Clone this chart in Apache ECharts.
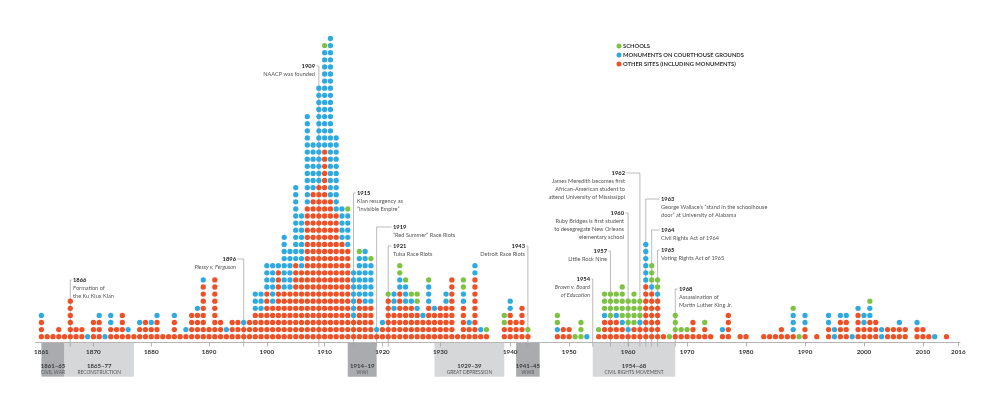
<!DOCTYPE html>
<html>
<head>
<meta charset="utf-8">
<script src="https://cdn.jsdelivr.net/npm/echarts@6/dist/echarts.min.js"></script>
<style>
html,body{margin:0;padding:0;background:#fff;}
#main{width:1000px;height:405px;}
</style>
</head>
<body>
<div id="main"></div>
<script>
// 每年数量，从1861年起（下标 = 年份 - 1861）
var firstYear = 1861;
var otherSites = [
	3,1,1,2,1,6,2,2,0,3,   3,0,2,2,4,1,1,2,3,2,   3,1,1,3,1,1,4,4,8,2,
	9,3,1,3,3,2,3,4,4,7,   5,10,7,7,11,10,19,21,22,27,   20,18,14,13,3,6,5,5,1,2,
	6,4,7,5,5,4,3,5,4,5,   5,9,1,5,2,9,1,1,2,4,   3,5,1,0,0,0,0,1,2,2,
	0,0,0,0,1,3,3,3,2,1,   2,2,8,7,6,1,0,1,1,1,   3,1,2,1,0,1,4,0,1,1,
	0,0,1,1,1,2,1,1,0,2,   0,1,0,2,0,3,3,0,4,2,   3,3,0,2,2,2,2,0,2,2,
	1,0,0,1,0,0
];
var courthouse = [
	1,0,0,0,0,0,0,0,1,0,   1,1,2,0,0,1,0,1,0,1,   1,0,0,1,0,1,0,1,1,0,
	0,0,1,0,0,1,0,3,3,4,   6,1,8,6,11,8,13,7,14,14,   23,11,5,5,7,6,8,6,1,1,
	0,3,2,3,1,1,1,3,1,0,   2,0,0,2,1,2,1,0,0,2,   0,0,0,0,0,0,0,1,0,0,
	0,0,1,0,0,1,0,1,1,1,   0,1,6,1,1,0,0,0,0,0,   0,0,0,0,0,1,0,0,0,0,
	0,0,0,0,0,0,0,3,0,2,   0,0,0,2,2,1,1,1,1,2,   2,0,2,0,0,1,0,0,1,0,
	0,1,0,0,0,0
];
var schools = [
	0,0,0,0,0,0,0,0,0,0,   0,0,0,0,0,0,0,0,0,0,   0,0,0,0,0,0,0,0,0,0,
	0,0,0,0,0,0,0,0,0,0,   0,0,0,0,0,0,0,0,0,1,   0,0,0,1,0,1,0,1,0,0,
	1,0,2,1,1,2,0,1,0,0,   0,0,0,2,0,0,0,1,2,0,   0,0,1,0,0,0,0,2,0,0,
	1,3,0,0,1,3,4,3,5,4,   5,3,0,3,2,0,1,3,1,1,   0,0,1,0,0,0,0,0,0,0,
	0,0,0,0,0,0,0,1,1,0,   0,0,0,0,0,0,0,0,0,0,   1,0,0,0,0,0,0,0,0,0,
	0,0,0,0,0,0
];

// 轴标签
var tickLabelsA = [1861, 1870, 1880, 1890, 1900, 1910, 1920, 1930];
var tickLabelsB = [1940, 1950, 1960, 1970, 1980, 1990, 2000, 2010, 2016];

// 时期
var periodStart = [1861, 1865, 1914, 1929, 1941, 1954];
var periodEnd   = [1865, 1877, 1919, 1939, 1945, 1968];
var periodYears = ['1861–65', '1865–77', '1914–19', '1929–39', '1941–45', '1954–68'];
var periodNames = ['CIVIL WAR', 'RECONSTRUCTION', 'WWI', 'GREAT DEPRESSION', 'WWII', 'CIVIL RIGHTS MOVEMENT'];
var periodDark  = [true, false, true, false, true, false];

// 注释
var noteYears = [1866, 1896, 1909, 1915, 1919, 1921, 1943, 1954, 1957, 1960, 1962, 1963, 1964, 1965, 1968];
var noteTexts = [
	['Formation of', 'the Ku Klux Klan'],
	['Plessy v. Ferguson'],
	['NAACP was founded'],
	['Klan resurgency as', '“Invisible Empire”'],
	['“Red Summer” Race Riots'],
	['Tulsa Race Riots'],
	['Detroit Race Riots'],
	['Brown v. Board', 'of Education'],
	['Little Rock Nine'],
	['Ruby Bridges is first student', 'to desegregate New Orleans', 'elementary school'],
	['James Meredith becomes first', 'African-American student to', 'attend University of Mississippi'],
	['George Wallace’s “stand in the schoolhouse', 'door” at University of Alabama'],
	['Civil Rights Act of 1964'],
	['Voting Rights Act of 1965'],
	['Assassination of', 'Martin Luther King Jr.']
];
var noteItalic = [false, true, false, false, false, false, false, true, false, false, false, false, false, false, false];
// 注释布局（像素）：方向、标题y、文字x
var noteSide = ['r','l','l','r','r','r','l','l','l','l','l','r','r','r','r'];
var noteTop  = [280, 259, 66, 193, 227, 246, 246, 279, 251, 213, 173, 199, 230, 250, 289];
var noteX    = [73, 236, 315, 357, 393, 393, 525, 590, 607, 624, 625, 661, 661, 661, 679];

var RED = '#ef5026', BLUE = '#2eaae1', GREEN = '#7dc243';
var NAME_S = 'SCHOOLS', NAME_C = 'MONUMENTS ON COURTHOUSE GROUNDS', NAME_O = 'OTHER SITES (INCLUDING MONUMENTS)';
var FONT = 'Lato, Roboto, sans-serif';

(function() {
	// 堆叠点：红在下，蓝在中，绿在上；1938年之前放左边的坐标系
	var pts = [{o: [], c: [], s: []}, {o: [], c: [], s: []}];
	for (var i = 0; i < otherSites.length; i++) {
		var year = firstYear + i;
		var g = year <= 1938 ? pts[0] : pts[1];
		var k = 0, a;
		for (a = 0; a < otherSites[i]; a++) g.o.push([year, k++]);
		for (a = 0; a < courthouse[i]; a++) g.c.push([year, k++]);
		for (a = 0; a < schools[i]; a++) g.s.push([year, k++]);
	}

	var myChart = echarts.init(document.getElementById('main'));

	function xAxisOpt(idx, min, max, labels, ticks) {
		return {
			type: 'value', gridIndex: idx, min: min, max: max, z: 3,
			splitLine: {show: false},
			axisLine: {show: true, onZero: false, lineStyle: {color: '#b5b5b5', width: 1}},
			axisTick: {show: true, length: 4, customValues: ticks, lineStyle: {color: '#a0a0a0', width: 0.8}},
			axisLabel: {
				customValues: labels, margin: 7,
				formatter: function(v) { return String(v); },
				fontFamily: FONT, fontSize: 6.3, fontWeight: 'bold', color: '#333'
			}
		};
	}
	function yAxisOpt(idx) {
		return {type: 'value', gridIndex: idx, min: -0.8, max: 45, show: false, splitLine: {show: false}};
	}
	function dots(name, color, data, idx) {
		return {
			name: name, type: 'scatter', xAxisIndex: idx, yAxisIndex: idx,
			symbol: 'circle', symbolSize: 5.3, silent: true,
			itemStyle: {color: color, opacity: 1},
			data: data
		};
	}

	var option = {
		animation: false,
		grid: [
			{left: 35.62, width: 459.78, top: 17.2, height: 325.18, outerBoundsMode: 'none'},
			{left: 495.4, width: 464.66, top: 17.2, height: 325.18, outerBoundsMode: 'none'}
		],
		xAxis: [
			xAxisOpt(0, 1860, 1939.54, tickLabelsA, tickLabelsA.slice(1)),
			xAxisOpt(1, 1937.49, 2016.3, tickLabelsB, tickLabelsB)
		],
		yAxis: [yAxisOpt(0), yAxisOpt(1)],
		series: [
			dots(NAME_O, RED, pts[0].o, 0), dots(NAME_C, BLUE, pts[0].c, 0), dots(NAME_S, GREEN, pts[0].s, 0),
			dots(NAME_O, RED, pts[1].o, 1), dots(NAME_C, BLUE, pts[1].c, 1), dots(NAME_S, GREEN, pts[1].s, 1)
		]
	};
	myChart.setOption(option);

	// 年份 -> 像素
	function xpx(year) {
		return myChart.convertToPixel({xAxisIndex: year <= 1938.5 ? 0 : 1}, year);
	}
	var axisY = myChart.convertToPixel({yAxisIndex: 0}, -0.8);

	var graphics = [];
	// 时期方块
	for (var p = 0; p < periodStart.length; p++) {
		var x0 = xpx(periodStart[p]), x1 = xpx(periodEnd[p]);
		graphics.push({
			type: 'rect', z: 1,
			shape: {x: x0, y: axisY, width: x1 - x0, height: 34.3},
			style: {fill: periodDark[p] ? '#a9abae' : '#d6d7d9'}
		});
		graphics.push({
			type: 'text', z: 4, x: (x0 + x1) / 2, y: 365.7,
			style: {text: periodYears[p], fontFamily: FONT, fontSize: 6, fontWeight: 'bold', fill: '#3a3a3a', align: 'center', verticalAlign: 'middle'}
		});
		graphics.push({
			type: 'text', z: 4, x: (x0 + x1) / 2, y: 372.6,
			style: {text: periodNames[p], fontFamily: FONT, fontSize: 4.8, fill: '#555', align: 'center', verticalAlign: 'middle'}
		});
	}
	// 注释线和文字
	for (var n = 0; n < noteYears.length; n++) {
		var lx = xpx(noteYears[n]);
		var ty = noteTop[n];
		var right = noteSide[n] === 'r';
		graphics.push({
			type: 'line', z: 1,
			shape: {x1: lx, y1: ty, x2: lx, y2: axisY + 4.2},
			style: {stroke: '#9d9d9d', lineWidth: 0.7}
		});
		graphics.push({
			type: 'line', z: 1,
			shape: {x1: lx, y1: ty, x2: right ? noteX[n] - 1.5 : noteX[n] + 1.5, y2: ty},
			style: {stroke: '#9d9d9d', lineWidth: 0.7}
		});
		graphics.push({
			type: 'text', z: 4, x: noteX[n], y: ty,
			style: {text: String(noteYears[n]), fontFamily: FONT, fontSize: 5.8, fontWeight: 'bold', fill: '#222', align: right ? 'left' : 'right', verticalAlign: 'middle'}
		});
		for (var j = 0; j < noteTexts[n].length; j++) {
			graphics.push({
				type: 'text', z: 4, x: noteX[n], y: ty + 8 * (j + 1),
				style: {
					text: noteTexts[n][j], fontFamily: FONT, fontSize: 5.6,
					fontStyle: noteItalic[n] ? 'italic' : 'normal',
					fill: '#555', align: right ? 'left' : 'right', verticalAlign: 'middle'
				}
			});
		}
	}
	// 图例
	var legNames = [NAME_S, NAME_C, NAME_O];
	var legColors = [GREEN, BLUE, RED];
	for (var l = 0; l < legNames.length; l++) {
		graphics.push({type: 'circle', z: 4, shape: {cx: 619, cy: 46 + 9 * l, r: 2.5}, style: {fill: legColors[l]}});
		graphics.push({
			type: 'text', z: 4, x: 623, y: 46 + 9 * l,
			style: {text: legNames[l], fontFamily: FONT, fontSize: 5.8, fontWeight: 'bold', fill: '#333', align: 'left', verticalAlign: 'middle'}
		});
	}
	myChart.setOption({graphic: graphics});
})();
</script>
</body>
</html>
